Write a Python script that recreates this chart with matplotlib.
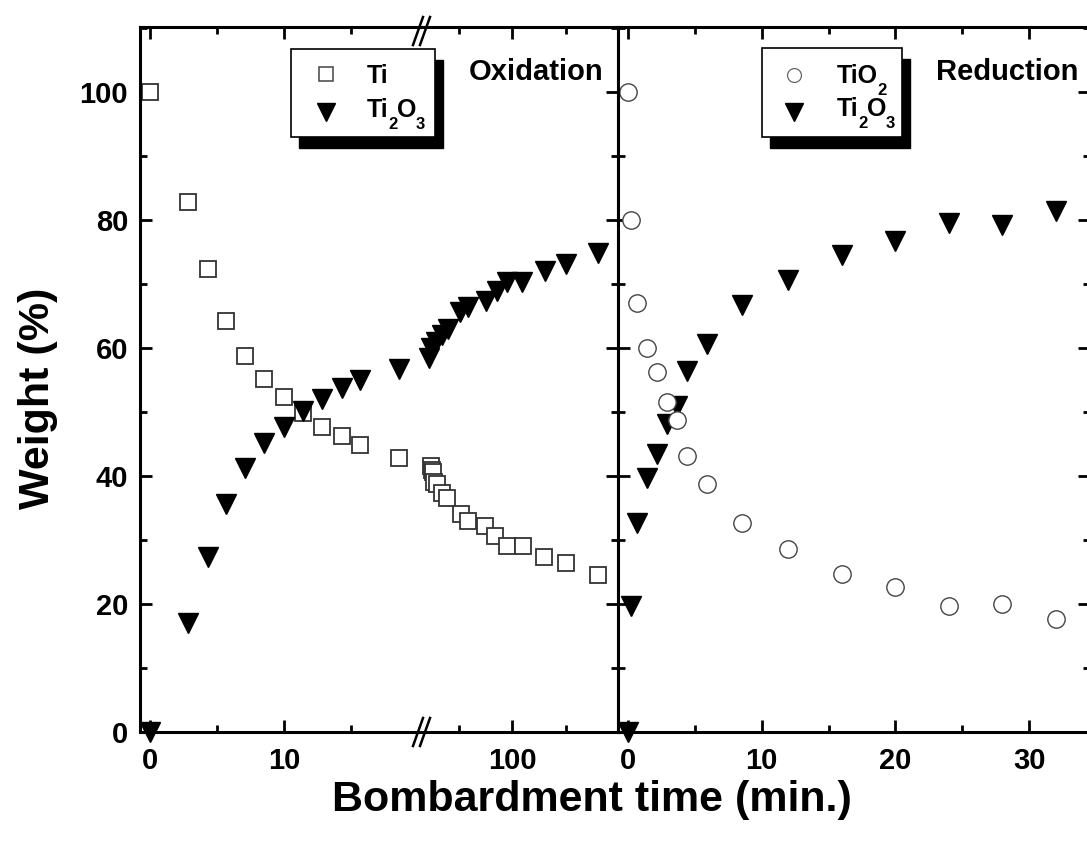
import numpy as np
import matplotlib
matplotlib.use('Agg')
import matplotlib.pyplot as plt
from matplotlib.patches import Rectangle
from matplotlib.lines import Line2D
from matplotlib.ticker import MultipleLocator, FixedLocator

plt.rcParams['font.family'] = ['Liberation Sans', 'DejaVu Sans']
plt.rcParams['font.weight'] = 'bold'

# 氧化: 断轴前 (min)
ox_t1 = [0, 2.8, 4.3, 5.7, 7.1, 8.5, 10, 11.4, 12.8, 14.3, 15.7, 18.6]
ox_ti1 = [100, 82.8, 72.3, 64.2, 58.7, 55.2, 52.4, 49.8, 47.6, 46.3, 44.8, 42.9]
ox_ti2o3_1 = [0, 17.1, 27.4, 35.7, 41.2, 45.1, 47.6, 50.2, 52.0, 53.7, 55.0, 56.8]

# 氧化: 断轴后
ox_t2_ti = [24, 25, 26, 27, 30, 34.5, 39.5, 52, 59, 75, 84, 95, 110, 130, 150, 180]
ox_ti2 = [41.6, 41.0, 40.7, 39.1, 38.8, 37.3, 36.6, 34.1, 33.0, 32.2, 30.7, 29.1, 29.0, 27.4, 26.4, 24.6]
ox_t2_ti2o3 = [22, 24.5, 29, 34.5, 40, 51, 59, 76, 86, 95, 109, 131, 150, 180]
ox_ti2o3_2 = [58.5, 60.1, 61.0, 62.0, 63.0, 65.6, 66.5, 67.3, 68.9, 70.3, 70.3, 72.0, 73.1, 74.8]

# 还原
red_t = [0, 0.22, 0.7, 1.4, 2.2, 2.9, 3.7, 4.4, 5.9, 8.5, 12, 16, 20, 24, 28, 32]
red_tio2 = [100, 80.0, 67.0, 60.0, 56.2, 51.6, 48.7, 43.2, 38.8, 32.7, 28.6, 24.7, 22.7, 19.7, 20.0, 17.7]
red_ti2o3 = [0, 19.7, 32.7, 39.7, 43.5, 48.2, 50.9, 56.5, 60.7, 66.7, 70.6, 74.6, 76.7, 79.5, 79.3, 81.5]

W, H = 1087, 843
fig = plt.figure(figsize=(W / 100, H / 100), dpi=100)
renderer = fig.canvas.get_renderer()

def fx(x):
    return x / W

def fy(y):
    return 1 - y / H

bottom = fy(732)
height = (732 - 27) / H
ax1 = fig.add_axes([fx(140), bottom, (422 - 140) / W, height])
ax2 = fig.add_axes([fx(422), bottom, (618 - 422) / W, height])
ax3 = fig.add_axes([fx(618), bottom, (1090 - 618) / W, height])

sq = dict(marker='s', ms=11.5, mfc='white', mec='#333333', mew=1.3, ls='none', clip_on=False)
tri = dict(marker='v', ms=15, color='black', ls='none', clip_on=False)
circ = dict(marker='o', ms=12.5, mfc='white', mec='#444444', mew=1.0, ls='none', clip_on=False)

ax1.plot(ox_t1, ox_ti1, **sq)
ax1.plot(ox_t1, ox_ti2o3_1, **tri)
ax2.plot(ox_t2_ti, ox_ti2, **sq)
ax2.plot(ox_t2_ti2o3, ox_ti2o3_2, **tri)
ax3.plot(red_t, red_ti2o3, **tri)
ax3.plot(red_t, red_tio2, **circ)

ax1.set_xlim(-0.75, 20.3)
ax2.set_xlim(15.9, 199)
ax3.set_xlim(-0.75, 34.56)

ax1.xaxis.set_major_locator(FixedLocator([0, 10]))
ax1.xaxis.set_minor_locator(FixedLocator([5, 15]))
ax2.xaxis.set_major_locator(FixedLocator([100]))
ax2.xaxis.set_minor_locator(FixedLocator([50, 150]))
ax3.xaxis.set_major_locator(MultipleLocator(10))
ax3.xaxis.set_minor_locator(MultipleLocator(5))

for ax in (ax1, ax2, ax3):
    ax.set_ylim(0, 110.2)
    ax.yaxis.set_major_locator(MultipleLocator(20))
    ax.yaxis.set_minor_locator(MultipleLocator(10))
    ax.tick_params(which='both', direction='in', width=2, top=True, bottom=True,
                   labelsize=21)
    ax.tick_params(axis='x', pad=10.5)
    ax.tick_params(axis='y', pad=8.5)
    ax.tick_params(which='major', length=8.6)
    ax.tick_params(which='minor', length=4.7)
    for s in ax.spines.values():
        s.set_linewidth(2.2)
    for lab in ax.get_xticklabels() + ax.get_yticklabels():
        lab.set_fontweight('bold')

ax1.spines['right'].set_visible(False)
ax1.tick_params(which='both', left=True, right=False)
ax2.spines['left'].set_visible(False)
ax2.tick_params(which='both', left=False, right=True, labelleft=False)
ax3.tick_params(which='both', left=True, right=True, labelleft=False)

# 断轴符号
for yc in (732, 31):
    for xc in (418, 425):
        fig.add_artist(Line2D([fx(xc - 5), fx(xc + 5)], [fy(yc + 14), fy(yc - 14)],
                              transform=fig.transFigure, color='black', lw=1.8))

fig.text(fx(603), fy(72), 'Oxidation', ha='right', va='center', fontsize=21, fontweight='bold')
fig.text(fx(1078), fy(72), 'Reduction', ha='right', va='center', fontsize=21, fontweight='bold')

fig.text(fx(592), fy(800), 'Bombardment time (min.)', ha='center', va='center',
         fontsize=31, fontweight='bold')
fig.text(fx(38), fy(398), 'Weight (%)', ha='center', va='center', rotation=90,
         fontsize=31, fontweight='bold')


def chem_text(x, base, pieces):
    # 逐段写出，下标单独放低
    for s, sub in pieces:
        size = 12 if sub else 18
        y = base + 12 if sub else base
        t = fig.text(fx(x), fy(y), s, ha='left', va='baseline', fontsize=size,
                     fontweight='bold', zorder=12)
        x += t.get_window_extent(renderer).width - 0.5


def legend_box(x0, y0, x1, y1, mx, tx, rows):
    fig.add_artist(Rectangle((fx(x0 + 8), fy(y1 + 11)), (x1 - x0) / W, (y1 - y0) / H,
                             transform=fig.transFigure, fc='black', ec='black', zorder=9))
    fig.add_artist(Rectangle((fx(x0), fy(y1)), (x1 - x0) / W, (y1 - y0) / H,
                             transform=fig.transFigure, fc='white', ec='black', lw=1.2, zorder=10))
    for my, base, pieces, style in rows:
        fig.add_artist(Line2D([fx(mx)], [fy(my)], transform=fig.transFigure, zorder=11, **style))
        chem_text(tx, base, pieces)


leg_sq = dict(marker='s', ms=9.5, mfc='white', mec='#444444', mew=1.1, ls='none')
leg_tri = dict(marker='v', ms=12.5, color='black', ls='none')
leg_circ = dict(marker='o', ms=10, mfc='white', mec='#666666', mew=0.9, ls='none')

ti2o3_label = [('Ti', False), ('2', True), ('O', False), ('3', True)]
legend_box(291, 49, 435, 137, 326, 367,
           [(74, 83, [('Ti', False)], leg_sq), (112, 117, ti2o3_label, leg_tri)])
legend_box(762, 48, 902, 137, 794, 837,
           [(75, 83, [('TiO', False), ('2', True)], leg_circ), (112, 116, ti2o3_label, leg_tri)])

fig.savefig('out.png', dpi=100)
